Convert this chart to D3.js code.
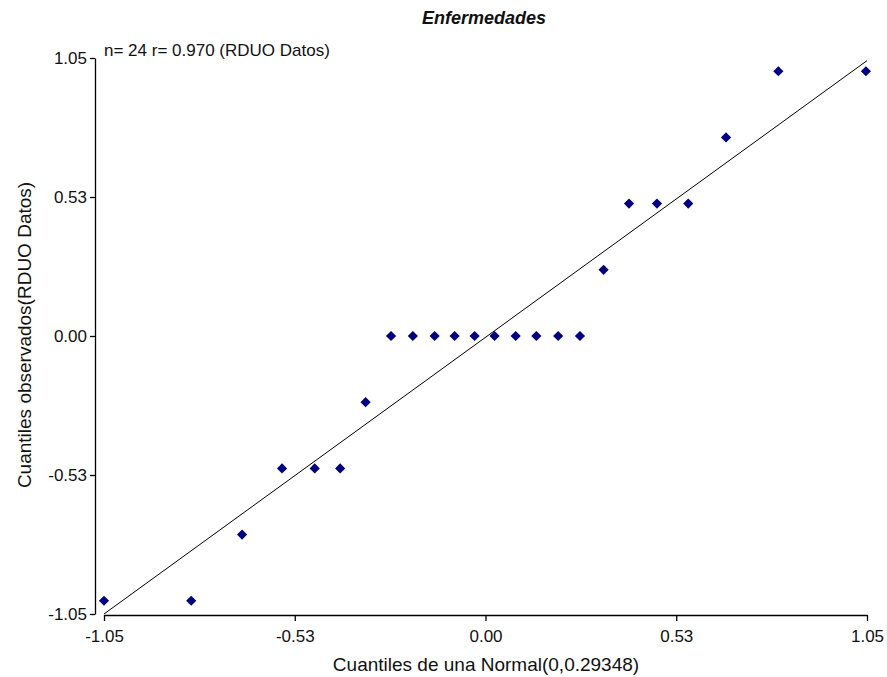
<!DOCTYPE html>
<html>
<head>
<meta charset="utf-8">
<script src="https://cdn.jsdelivr.net/npm/d3@7"></script>
<style>
  body { margin: 0; background: #fff; }
  text { font-family: "Liberation Sans", Arial, sans-serif; fill: #111; }
</style>
</head>
<body>
<div id="qqChart"></div>
<script>
const teoricos = [-1.05, -0.81, -0.67, -0.56, -0.47, -0.40, -0.33, -0.26, -0.20, -0.14, -0.085, -0.03,
                  0.025, 0.083, 0.14, 0.20, 0.26, 0.325, 0.395, 0.472, 0.558, 0.662, 0.806, 1.047];
const observados = [-1.0, -1.0, -0.75, -0.5, -0.5, -0.5, -0.25, 0, 0, 0, 0, 0,
                    0, 0, 0, 0, 0, 0.25, 0.5, 0.5, 0.5, 0.75, 1.0, 1.0];
// fitted line end points
const lineaX = [-1.05, 1.05];
const lineaY = [-1.05, 1.04];
const tickValues = [-1.05, -0.525, 0, 0.525, 1.05];
const tickLabels = ["-1.05", "-0.53", "0.00", "0.53", "1.05"];

const width = 887, height = 677;

const svg = d3.select("#qqChart")
    .append("svg")
    .attr("width", width)
    .attr("height", height);

const x = d3.scaleLinear().domain([-1.05, 1.05]).range([104, 867]);
const y = d3.scaleLinear().domain([-1.05, 1.05]).range([614, 58]);

// x axis
svg.append("g")
    .attr("transform", "translate(0,615)")
    .call(d3.axisBottom(x)
      .tickValues(tickValues)
      .tickFormat((d, i) => tickLabels[i])
      .tickSize(6)
      .tickSizeOuter(0)
      .tickPadding(9));

// y axis
svg.append("g")
    .attr("transform", "translate(95,0)")
    .call(d3.axisLeft(y)
      .tickValues(tickValues)
      .tickFormat((d, i) => tickLabels[i])
      .tickSize(5)
      .tickSizeOuter(0)
      .tickPadding(3));

svg.selectAll(".tick text")
    .style("font-size", "17px")
    .attr("fill", "#111");
svg.selectAll(".domain, .tick line")
    .attr("stroke", "#000")
    .attr("stroke-width", 1.3);

// fitted line
svg.append("line")
    .attr("x1", x(lineaX[0]))
    .attr("y1", y(lineaY[0]))
    .attr("x2", x(lineaX[1]))
    .attr("y2", y(lineaY[1]))
    .attr("stroke", "#000")
    .attr("stroke-width", 1);

// points
const diamond = d3.symbol().type(d3.symbolSquare).size(52);
svg.append("g")
    .selectAll("path")
    .data(teoricos.map((d, i) => [d, observados[i]]))
    .enter().append("path")
    .attr("d", diamond)
    .attr("transform", d => `translate(${x(d[0])},${y(d[1])}) rotate(45)`)
    .attr("fill", "#000080");

// title
svg.append("text")
    .attr("x", 484)
    .attr("y", 24)
    .attr("text-anchor", "middle")
    .style("font-size", "18px")
    .style("font-weight", "bold")
    .style("font-style", "italic")
    .text("Enfermedades");

// annotation
svg.append("text")
    .attr("x", 104)
    .attr("y", 56)
    .style("font-size", "17px")
    .text("n= 24 r= 0.970 (RDUO Datos)");

// axis titles
svg.append("text")
    .attr("x", 486)
    .attr("y", 671)
    .attr("text-anchor", "middle")
    .style("font-size", "19px")
    .text("Cuantiles de una Normal(0,0.29348)");

svg.append("text")
    .attr("transform", "translate(31,335) rotate(-90)")
    .attr("text-anchor", "middle")
    .style("font-size", "19px")
    .text("Cuantiles observados(RDUO Datos)");
</script>
</body>
</html>
